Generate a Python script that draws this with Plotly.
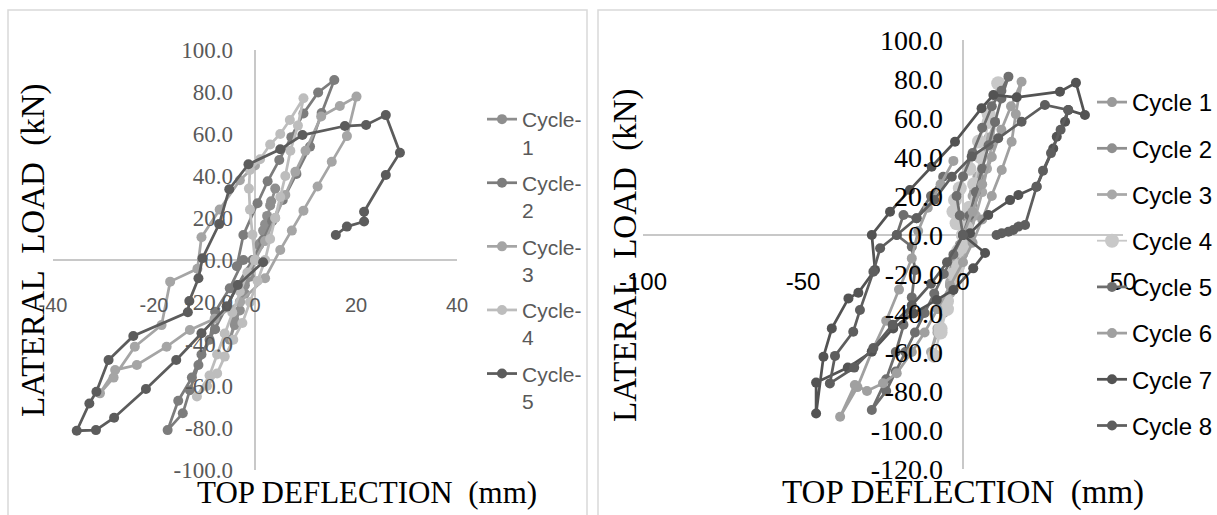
import plotly.graph_objects as go

W, H = 1217, 515

# ---------------- Left chart data (TOP DEFLECTION mm, LATERAL LOAD kN) ----------------
left_names = ["Cycle-<br>1", "Cycle-<br>2", "Cycle-<br>3", "Cycle-<br>4", "Cycle-<br>5"]
left_colors = ["#8e8e8e", "#7c7c7c", "#a5a5a5", "#bdbdbd", "#5c5c5c"]

left_c1_x = [0, 0.8, 1.6, 2.4, 3.2, 4.0, 3.0, 2.0, 1.0, 0.0, -1.0, -2.0, -3.0, -4.0, -5.0, -4.0, -3.0, -2.0, -1.0, 0.0]
left_c1_y = [0, 7, 14, 21, 28, 34, 26, 17, 8, 0, -8, -16, -24, -31, -38, -29, -20, -12, -5, 0]

left_c2_x = [-3.6, -2.3, 0.5, 2.5, 4.8, 7.2, 9.6, 12.5, 15.7, 13.2, 10.9, 8.2, 5.5, 3.4, 1.6, -0.5, -3.4, -5.6,
             -7.9, -10.6, -12.5, -15.2, -17.3, -14.3, -12.9, -11.2, -9.0, -7.9, -5.0, -2.3]
left_c2_y = [-3.0, 11.9, 27.0, 37.5, 47.6, 58.5, 69.8, 79.8, 85.7, 70.0, 54.0, 41.0, 28.6, 18.5, 9.5, 0.0, -11.9, -22.2,
             -33.0, -45.0, -56.0, -67.0, -81.0, -73.0, -62.0, -50.0, -38.0, -24.6, -13.5, 0.0]

left_c3_x = [0, 2, 4, 6, 8, 10, 13.1, 16.8, 20.1, 18.2, 15.2, 12.4, 9.6, 7.3, 5.0, 2.0, -3.0, -8.0, -12.9, -17.5,
             -23.4, -27.7, -30.7, -28.0, -23.8, -18.5, -16.8, -11.4, -10.6, -7.0, -3.0, 0.0]
left_c3_y = [0, 9, 20, 31, 42, 52, 68.3, 73.3, 77.8, 59.0, 46.8, 35, 23.5, 14, 4.8, -8.7, -20, -28, -33.3, -41.3,
             -50.0, -52.4, -63.5, -56, -41.3, -31, -10.3, -4.2, 10.8, 24, 38, 45]

left_c4_x = [0, -0.5, -1.0, -1.2, -1.0, 1.0, 3.0, 5.0, 6.9, 9.6, 8.5, 7.0, 6.0, 5.0, 4.0, 3.0, 2.0, 0.5, -1.0, -2.5,
             -4.3, -6.0, -7.5, -9.5, -11.5, -9.0, -7.5, -6.0, -4.5, -3.0, -1.5, 0.0]
left_c4_y = [0, 12, 24, 34, 42.9, 48, 55, 60, 66.7, 77.0, 64, 52, 40, 30, 20, 10, 0, -10, -20, -30,
             -38, -46, -54, -60, -65, -55, -45, -35, -25, -15, -6, 0]

left_c5_x = [1.6, -3.4, -5.6, -10.6, -15.6, -21.6, -27.9, -31.5, -35.3, -32.8, -31.4, -29.0, -24.1, -13.3, -13.0,
             -11.2, -10.4, -7.1, -5.1, -1.3, 5.0, 9.4, 17.8, 22.0, 25.9, 28.7, 25.9, 21.6, 21.6, 18.2, 16.0]
left_c5_y = [-1.1, -11.9, -22.2, -34.9, -47.6, -61.4, -75.1, -81.0, -81.3, -68.3, -62.7, -47.6, -36.2, -24.9, -19.5,
             -8.7, 0.8, 17.1, 33.7, 45.6, 52.7, 59.5, 63.8, 64.3, 69.0, 51.1, 40.5, 23.0, 18.3, 15.9, 11.9]

left_series = [(left_c1_x, left_c1_y), (left_c2_x, left_c2_y), (left_c3_x, left_c3_y),
               (left_c4_x, left_c4_y), (left_c5_x, left_c5_y)]
left_xticks = [-40, -20, 0, 20, 40]
left_yticks = [-100, -80, -60, -40, -20, 0, 20, 40, 60, 80, 100]

# ---------------- Right chart data ----------------
right_names = ["Cycle 1", "Cycle 2", "Cycle 3", "Cycle 4", "Cycle 5", "Cycle 6", "Cycle 7", "Cycle 8"]
right_colors = ["#9a9a9a", "#8f8f8f", "#a8a8a8", "#c8c8c8", "#6e6e6e", "#a0a0a0", "#535353", "#5e5e5e"]

right_c1_x = [0, 1, 2, 3, 2, 1, 0, -1, -2, -3, -2, -1, 0]
right_c1_y = [0, 5, 10, 15, 9, 3, -3, -8, -13, -18, -11, -5, 0]

right_c2_x = [0, 1, 2, 3.5, 5, 4, 3, 2, 1, -1, -2.5, -4, -5.5, -4, -2.5, -1, 0]
right_c2_y = [0, 7, 14, 22, 30, 22, 14, 6, -2, -10, -18, -26, -34, -25, -16, -7, 0]

right_c3_x = [0, 1.5, 3, 4.5, 6, 8, 10, 9, 7.5, 6, 4, 2, 0, -2, -4, -6, -8, -10, -8, -6, -4, -2, 0]
right_c3_y = [0, 10, 20, 30, 40, 50, 58, 46, 34, 22, 10, 0, -10, -20, -30, -40, -50, -60, -48, -36, -24, -12, 0]

right_c4_x = [0, -2, -3, -2.5, -1, 2, 5, 8, 11, 8, 5.5, 3.5, 2, 1, 0, -1.5, -3, -5, -7, -9, -7, -5, -3, -1.5, 0]
right_c4_y = [0, 6, 12, 18, 24, 34, 48, 62, 77.8, 58, 40, 26, 14, 4, -6, -16, -26, -38, -50, -62, -48, -34, -20, -8, 0]

right_c5_x = [0, -1, -2, 0, 3, 6, 9, 12, 14.2, 12, 10, 8, 6, 4, 2, 0, -3, -6, -9, -12, -15, -18, -21, -24, -28.5,
              -24, -21, -18.6, -16, -15, -16, -20.7, -18.6, -14.5, -10, -6.2]
right_c5_y = [0, 10, 20, 30, 42, 55, 66, 74, 81.2, 70, 58, 46, 34, 22, 10, 0, -10, -20, -30, -40, -50, -60, -70, -80,
              -89.7, -74, -60, -46, -32, -18, -6, 0, 10.3, 8.6, 20, 29.9]

right_c6_x = [0, 3, 6, 9, 12, 15, 18.3, 16.5, 15.2, 12.1, 9, 6, 3, 0, -4, -8, -12, -16, -20.7, -25, -30, -33.8, -38.4,
              -33, -28.5, -24, -20, -16, -14, -11, -7, -3]
right_c6_y = [0, 12, 26, 40, 54, 66, 78.6, 62, 47.8, 33.3, 20, 8, -4, -14, -26, -38, -50, -60, -70.9, -76, -80, -76.9,
              -93.2, -78, -59.8, -44, -28, -12, 2, 14, 26, 38]

right_c7_x = [0, 6.9, 3.2, -3, -8.2, -15.5, -21.8, -28.5, -36, -45.9, -45.9, -43.6, -41, -35.8, -32.7, -27.5, -28.5,
              -22.8, -16.6, -9.8, -2.5, 5.8, 9.5, 16.8, 30.3, 35.3, 38.1, 32.9, 31.9, 29.3, 28.2, 23, 17.3, 14.7, 7.9, 2.2]
right_c7_y = [0, -9.2, -17.1, -28.2, -33.3, -40.2, -47.9, -59.8, -68, -75.7, -91.5, -62.4, -47.9, -32.5, -29.6, -17.9, 0,
              11.9, 23.1, 35, 47.8, 65, 71.8, 70.6, 73.5, 78.1, 61.5, 64.1, 58.1, 50.4, 44.4, 24.8, 20.5, 17.9, 10.3, 0.9]

right_c8_x = [0, -5, -10, -16, -22, -28, -34, -41.6, -40, -34.3, -32.2, -28, -25.9, -20.7, -14.5, -9, -3.5, 2.7, 11,
              18.3, 25.6, 32.9, 30.5, 27.5, 25, 23, 19.4, 17.3, 15.7, 14.2, 12.1, 10.5]
right_c8_y = [0, -14, -25, -36, -46, -58, -68, -76.1, -62, -49.6, -38.5, -18.8, -6.8, 0, 8.6, 18, 29.9, 40.2, 49.6,
              58.1, 66.7, 64.1, 54, 42, 33, 24.8, 5.1, 4.3, 2.6, 1.7, 0.9, 0]

right_series = [(right_c1_x, right_c1_y), (right_c2_x, right_c2_y), (right_c3_x, right_c3_y), (right_c4_x, right_c4_y),
                (right_c5_x, right_c5_y), (right_c6_x, right_c6_y), (right_c7_x, right_c7_y), (right_c8_x, right_c8_y)]
right_xticks = [-100, -50, 0, 50]
right_yticks = [-120, -100, -80, -60, -40, -20, 0, 20, 40, 60, 80, 100]

x_title = "TOP DEFLECTION\u00a0 (mm)"
y_title = "LATERAL\u00a0 LOAD\u00a0 (kN)"


def px_x(p):
    return p / W


def px_y(p):
    return 1 - p / H


fig = go.Figure()

for i, ((xs, ys), name, col) in enumerate(zip(left_series, left_names, left_colors)):
    fig.add_trace(go.Scatter(
        x=xs, y=ys, name=name, mode="lines+markers", xaxis="x", yaxis="y",
        line=dict(color=col, width=2.75), marker=dict(color=col, size=10),
        legend="legend", legendgroup=f"L{i}"))

for i, ((xs, ys), name, col) in enumerate(zip(right_series, right_names, right_colors)):
    msize = 14 if i == 3 else 10
    fig.add_trace(go.Scatter(
        x=xs, y=ys, name=name, mode="lines+markers", xaxis="x2", yaxis="y2",
        line=dict(color=col, width=2.75 if i != 3 else 1.8), marker=dict(color=col, size=msize),
        legend="legend2", legendgroup=f"R{i}"))

serif = "Liberation Serif, Times New Roman, serif"
sans = "Liberation Sans, Arial, sans-serif"

fig.update_layout(
    width=W, height=H,
    margin=dict(l=0, r=0, t=0, b=0, autoexpand=False),
    paper_bgcolor="white", plot_bgcolor="white",
    showlegend=True,
    xaxis=dict(domain=[px_x(53), px_x(457)], range=[-40, 40], anchor="free", position=px_y(291),
               tickvals=left_xticks, ticktext=[str(v) for v in left_xticks],
               showgrid=False, showline=False, ticks="", automargin=False,
               zeroline=True, zerolinecolor="#c8c8c8", zerolinewidth=1.5,
               tickfont=dict(family=sans, size=20, color="#595959")),
    yaxis=dict(domain=[px_y(470), px_y(50)], range=[-100, 100], anchor="free", position=px_x(255),
               tickvals=left_yticks, ticktext=[f"{v:.1f}" for v in left_yticks],
               showgrid=False, showline=False, ticks="", ticklabelstandoff=22, automargin=False,
               zeroline=True, zerolinecolor="#c8c8c8", zerolinewidth=1.5,
               tickfont=dict(family=serif, size=23, color="#595959")),
    xaxis2=dict(domain=[px_x(643), px_x(1123)], range=[-100, 50], anchor="free", position=px_y(265),
                tickvals=right_xticks, ticktext=[str(v) for v in right_xticks],
                showgrid=False, showline=False, ticks="", automargin=False,
                zeroline=True, zerolinecolor="#c8c8c8", zerolinewidth=1.5,
                tickfont=dict(family=sans, size=24, color="black")),
    yaxis2=dict(domain=[px_y(469), px_y(40)], range=[-120, 100], anchor="free", position=px_x(963),
                tickvals=right_yticks, ticktext=[f"{v:.1f}" for v in right_yticks],
                showgrid=False, showline=False, ticks="", ticklabelstandoff=20, automargin=False,
                zeroline=True, zerolinecolor="#c8c8c8", zerolinewidth=1.5,
                tickfont=dict(family=serif, size=28, color="black")),
    legend=dict(x=px_x(482), y=px_y(99), xanchor="left", yanchor="top",
                bgcolor="rgba(0,0,0,0)", traceorder="grouped", tracegroupgap=6, valign="top",
                font=dict(family=sans, size=21, color="#595959")),
    legend2=dict(x=px_x(1092), y=px_y(80), xanchor="left", yanchor="top",
                 bgcolor="rgba(0,0,0,0)", traceorder="grouped", tracegroupgap=12,
                 font=dict(family=sans, size=24, color="black")),
    shapes=[
        dict(type="rect", xref="paper", yref="paper", x0=px_x(8), x1=px_x(587), y0=-0.2, y1=px_y(10),
             line=dict(color="#d9d9d9", width=1.5), layer="below"),
        dict(type="rect", xref="paper", yref="paper", x0=px_x(598), x1=1.2, y0=-0.2, y1=px_y(10),
             line=dict(color="#d9d9d9", width=1.5), layer="below"),
    ],
    annotations=[
        dict(text=y_title, xref="paper", yref="paper", x=px_x(33), y=px_y(250), textangle=-90,
             xanchor="center", yanchor="middle",
             showarrow=False, font=dict(family=serif, size=33, color="black")),
        dict(text=x_title, xref="paper", yref="paper", x=px_x(367), y=px_y(492),
             xanchor="center", yanchor="middle",
             showarrow=False, font=dict(family=serif, size=31, color="black")),
        dict(text=y_title, xref="paper", yref="paper", x=px_x(625), y=px_y(255), textangle=-90,
             xanchor="center", yanchor="middle",
             showarrow=False, font=dict(family=serif, size=33, color="black")),
        dict(text=x_title, xref="paper", yref="paper", x=px_x(963), y=px_y(492),
             xanchor="center", yanchor="middle",
             showarrow=False, font=dict(family=serif, size=33, color="black")),
    ],
)

fig.write_html("out.html", config={"displayModeBar": False},
               post_script="document.body.style.margin='0';")
